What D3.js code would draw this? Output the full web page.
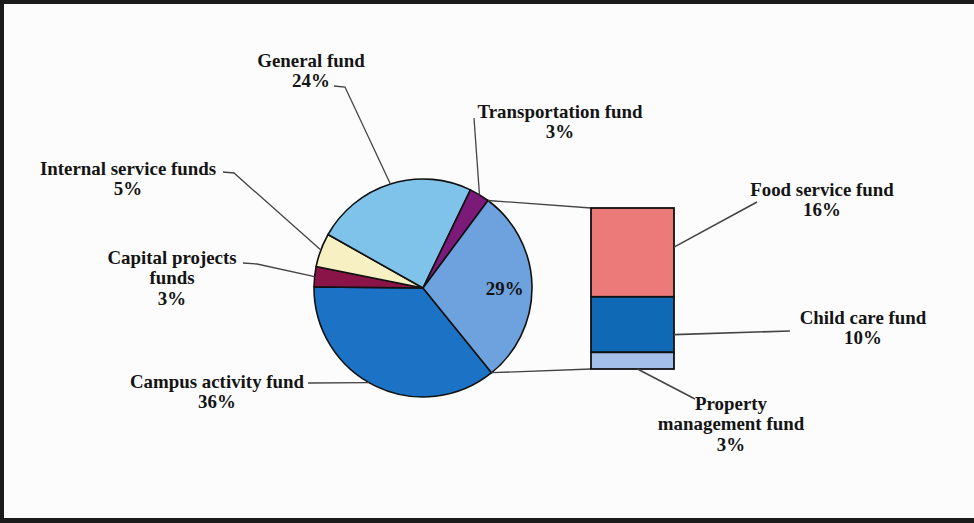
<!DOCTYPE html>
<html><head><meta charset="utf-8">
<script src="https://cdn.jsdelivr.net/npm/d3@7"></script>
<style>html,body{margin:0;padding:0;background:#fff;overflow:hidden}</style>
</head><body><svg id="chart" width="974" height="523"></svg>
<script>
// ---- data ----
const pieLabels = ["Campus activity fund", "Capital projects funds", "Internal service funds", "General fund", "Transportation fund", "Other funds"];
const pieValues = [36, 3, 5, 24, 3, 29];
const pieColors = ["#1c72c4", "#8a1447", "#f6f0c2", "#7fc2ea", "#7b1a78", "#6ea2df"];
const barLabels = ["Food service fund", "Child care fund", "Property management fund"];
const barValues = [16, 10, 3];
const barColors = ["#ec7a78", "#1069b5", "#a3bfea"];

// ---- layout ----
const W = 974, H = 523;
const svg = d3.select("#chart");
svg.append("rect").attr("width", W).attr("height", H).attr("fill", "#fcfcfc");
// frame
svg.append("rect").attr("x", 0).attr("y", 0).attr("width", W).attr("height", 4).attr("fill", "#1b1b1b");
svg.append("rect").attr("x", 0).attr("y", 0).attr("width", 4).attr("height", H).attr("fill", "#1b1b1b");
svg.append("rect").attr("x", 0).attr("y", 518).attr("width", W).attr("height", 5).attr("fill", "#1b1b1b");

const cx = 423, cy = 288, R = 109;
const deg = Math.PI / 180;
const start = 141 * deg;
const pie = d3.pie().sort(null).value(d => d).startAngle(start).endAngle(start + 2 * Math.PI);
const arcs = pie(pieValues);
const arc = d3.arc().innerRadius(0).outerRadius(R);
const pt = (a, r) => [cx + r * Math.sin(a), cy - r * Math.cos(a)];

const g = svg.append("g").attr("transform", `translate(${cx},${cy})`);
g.selectAll("path").data(arcs).join("path")
  .attr("d", arc)
  .attr("fill", (d, i) => pieColors[i])
  .attr("stroke", "#111").attr("stroke-width", 1.6).attr("stroke-linejoin", "round");

// bar (breakdown of the 29% slice)
const barX0 = 591, barX1 = 674;
const barTotal = d3.sum(barValues);
const y = d3.scaleLinear().domain([0, barTotal]).range([208, 369]);
const stack = [];
let acc = 0;
barValues.forEach((v, i) => { stack.push({ i, y0: acc, y1: acc + v }); acc += v; });

// connectors from the slice to the bar
const other = arcs[5];
const lineStyle = sel => sel.attr("fill", "none").attr("stroke", "#444").attr("stroke-width", 1.3);
svg.append("path").call(lineStyle).attr("d", d3.line()([pt(other.startAngle, R), [barX0, y(0)]]));
svg.append("path").call(lineStyle).attr("d", d3.line()([pt(other.endAngle, R), [barX0, y(barTotal)]]));

svg.selectAll("rect.seg").data(stack).join("rect").attr("class", "seg")
  .attr("x", barX0).attr("width", barX1 - barX0)
  .attr("y", d => y(d.y0)).attr("height", d => y(d.y1) - y(d.y0))
  .attr("fill", d => barColors[d.i]).attr("stroke", "#111").attr("stroke-width", 1.8);

// ---- labels ----
const pieLayout = [
  { lines: ["Campus activity fund"], cx: 217, y: 388, lead: [[308, 383]], frac: 0.53 },
  { lines: ["Capital projects", "funds"], cx: 172, y: 264, lead: [[243, 263], [257, 264]], frac: 0.5 },
  { lines: ["Internal service funds"], cx: 128, y: 175, lead: [[223, 172], [234, 173]], frac: 0.5 },
  { lines: ["General fund"], cx: 311, y: 67, lead: [[334, 86], [345, 87]], frac: 0.5 },
  { lines: ["Transportation fund"], cx: 560, y: 118, lead: [[474, 118]], frac: 0.5 },
  null
];
const barLayout = [
  { lines: ["Food service fund"], cx: 822, y: 196, lead: [[757, 202]], side: "right", frac: 0.44 },
  { lines: ["Child care fund"], cx: 863, y: 324, lead: [[790, 331]], side: "right", frac: 0.68 },
  { lines: ["Property", "management fund"], cx: 731, y: 410, lead: [[695, 399]], side: "bottom", frac: 0.56 }
];

const LH = 20.5;
function drawLabel(lines, x, y0) {
  const t = svg.append("text")
    .attr("transform", `translate(${x},${y0}) scale(1.05,1)`)
    .attr("text-anchor", "middle")
    .attr("font-family", "'Liberation Serif','Times New Roman',serif")
    .attr("font-weight", "bold").attr("font-size", 18).attr("fill", "#141414");
  lines.forEach((s, k) => t.append("tspan").attr("x", 0).attr("y", k * LH).text(s));
}

pieLayout.forEach((L, i) => {
  if (!L) return;
  const a = arcs[i];
  const ang = a.startAngle + (a.endAngle - a.startAngle) * L.frac;
  svg.append("path").call(lineStyle).attr("d", d3.line()([...L.lead, pt(ang, R)]));
  drawLabel([...L.lines, pieValues[i] + "%"], L.cx, L.y);
});
// value inside the big slice
{
  const a = arcs[5];
  const mid = (a.startAngle + a.endAngle) / 2;
  const p = pt(mid, R * 0.75);
  drawLabel([pieValues[5] + "%"], p[0], p[1] + 9);
}

barLayout.forEach((L, i) => {
  const s = stack[i];
  let anchor;
  if (L.side === "right") anchor = [barX1, y(s.y0) + (y(s.y1) - y(s.y0)) * L.frac];
  else anchor = [barX0 + (barX1 - barX0) * L.frac, y(s.y1)];
  svg.append("path").call(lineStyle).attr("stroke-width", 1.6).attr("d", d3.line()([anchor, ...L.lead]));
  drawLabel([...L.lines, barValues[i] + "%"], L.cx, L.y);
});
</script>
</body></html>
